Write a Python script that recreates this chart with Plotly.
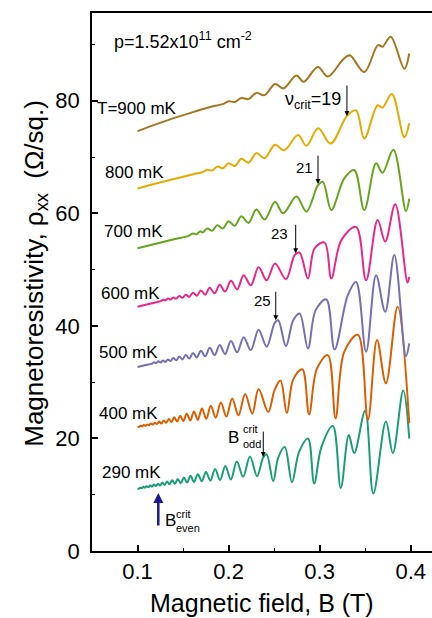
import plotly.graph_objects as go

# ---------------- data ----------------
B_290 = [0.1000, 0.1014, 0.1030, 0.1047, 0.1065, 0.1082, 0.1100, 0.1119, 0.1139, 0.1159,
         0.1180, 0.1202, 0.1225, 0.1248, 0.1273, 0.1298, 0.1325, 0.1351, 0.1380, 0.1410,
         0.1442, 0.1475, 0.1510, 0.1544, 0.1582, 0.1620, 0.1662, 0.1706, 0.1752, 0.1800,
         0.1852, 0.1906, 0.1965, 0.2025, 0.2090, 0.2160, 0.2235, 0.2313, 0.2380, 0.2418,
         0.2490, 0.2545, 0.2617, 0.2696, 0.2774, 0.2872, 0.2940, 0.3020, 0.3145, 0.3232,
         0.3320, 0.3380, 0.3500, 0.3590, 0.3728, 0.3804, 0.3918, 0.3984]
R_290 = [11.1, 11.05, 11.25, 11.15, 11.4, 11.25, 11.5, 11.35, 11.65, 11.45,
         11.8, 11.55, 11.95, 11.65, 12.15, 11.75, 12.35, 11.85, 12.55, 11.95,
         12.8, 12.05, 13.05, 12.15, 13.35, 12.25, 13.65, 12.4, 14.05, 12.5,
         14.55, 12.6, 15.1, 12.7, 15.9, 13.2, 16.8, 13.3, 16.6, 17.2,
         12.4, 16.6, 18.5, 12.2, 17.6, 20.0, 12.0, 18.5, 22.2, 11.2,
         20.6, 17.4, 24.9, 10.2, 23.0, 17.4, 28.5, 20.0]

B_400 = [0.1000, 0.1017, 0.1034, 0.1051, 0.1069, 0.1087, 0.1106, 0.1126, 0.1147, 0.1168,
         0.1190, 0.1213, 0.1237, 0.1262, 0.1288, 0.1315, 0.1343, 0.1372, 0.1403, 0.1435,
         0.1469, 0.1503, 0.1540, 0.1579, 0.1620, 0.1662, 0.1708, 0.1755, 0.1805, 0.1859,
         0.1915, 0.1976, 0.2040, 0.2108, 0.2182, 0.2260, 0.2330, 0.2435, 0.2505, 0.2570,
         0.2640, 0.2710, 0.2810, 0.2884, 0.2970, 0.3090, 0.3175, 0.3270, 0.3420, 0.3530,
         0.3630, 0.3728, 0.3856, 0.3984]
R_400 = [22.1, 22.05, 22.25, 22.15, 22.4, 22.25, 22.5, 22.35, 22.65, 22.45,
         22.8, 22.55, 23.0, 22.65, 23.2, 22.8, 23.45, 22.9, 23.75, 23.0,
         24.05, 23.1, 24.4, 23.2, 24.8, 23.3, 25.3, 23.5, 25.8, 23.7,
         26.4, 23.9, 27.1, 24.1, 27.9, 24.4, 28.8, 24.7, 28.6, 30.3,
         24.5, 30.5, 32.3, 24.3, 32.4, 34.8, 23.6, 35.4, 38.4, 23.3,
         37.5, 29.8, 43.4, 22.7]

B_500 = [0.1000, 0.1080, 0.1161, 0.1183, 0.1205, 0.1229, 0.1254, 0.1280, 0.1306, 0.1334,
         0.1363, 0.1393, 0.1425, 0.1459, 0.1493, 0.1530, 0.1568, 0.1609, 0.1651, 0.1696,
         0.1743, 0.1793, 0.1846, 0.1903, 0.1962, 0.2026, 0.2094, 0.2166, 0.2244, 0.2330,
         0.2418, 0.2508, 0.2545, 0.2630, 0.2710, 0.2780, 0.2872, 0.2956, 0.3073, 0.3164,
         0.3310, 0.3400, 0.3510, 0.3620, 0.3720, 0.3820, 0.3948, 0.3984]
R_500 = [32.7, 33.0, 33.3, 33.55, 33.4, 33.7, 33.5, 33.85, 33.6, 34.05,
         33.75, 34.3, 33.9, 34.55, 34.05, 34.85, 34.2, 35.2, 34.4, 35.6,
         34.6, 36.1, 34.8, 36.6, 35.0, 37.3, 35.3, 38.0, 35.7, 39.3,
         36.3, 40.6, 41.0, 36.4, 41.0, 42.2, 36.0, 42.8, 44.7, 35.8,
         45.5, 47.8, 35.4, 49.0, 42.5, 52.6, 34.6, 36.9]

B_600 = [0.1000, 0.1100, 0.1205, 0.1254, 0.1280, 0.1306, 0.1334, 0.1363, 0.1393, 0.1425,
         0.1459, 0.1493, 0.1530, 0.1568, 0.1609, 0.1651, 0.1696, 0.1743, 0.1793, 0.1846,
         0.1903, 0.1962, 0.2026, 0.2094, 0.2166, 0.2244, 0.2330, 0.2418, 0.2510, 0.2630,
         0.2727, 0.2780, 0.2872, 0.2945, 0.3055, 0.3128, 0.3237, 0.3400, 0.3510, 0.3637,
         0.3720, 0.3830, 0.3965, 0.3984]
R_600 = [43.4, 43.8, 44.2, 44.4, 44.65, 44.55, 44.85, 44.7, 45.05, 44.85,
         45.3, 45.0, 45.55, 45.15, 45.9, 45.35, 46.3, 45.55, 46.8, 45.8,
         47.3, 46.1, 48.0, 46.5, 49.0, 47.2, 50.4, 48.1, 51.1, 48.3,
         52.6, 53.0, 48.4, 53.8, 54.8, 48.4, 55.2, 57.6, 48.1, 58.8,
         55.0, 61.6, 47.7, 48.7]

B_700 = [0.1000, 0.1200, 0.1400, 0.1560, 0.1605, 0.1650, 0.1690, 0.1716, 0.1765, 0.1820,
         0.1875, 0.1936, 0.2000, 0.2068, 0.2140, 0.2219, 0.2305, 0.2395, 0.2510, 0.2600,
         0.2745, 0.2855, 0.2982, 0.3036, 0.3128, 0.3270, 0.3380, 0.3490, 0.3620, 0.3690,
         0.3810, 0.3948, 0.3984]
R_700 = [53.8, 54.6, 55.4, 56.0, 56.4, 56.3, 56.8, 56.6, 57.3, 56.9,
         57.9, 57.3, 58.6, 57.8, 59.5, 58.3, 60.7, 58.9, 62.0, 60.0,
         63.0, 60.3, 65.0, 65.6, 60.6, 66.2, 67.7, 60.6, 68.9, 67.2,
         71.3, 60.4, 62.6]

B_800 = [0.1000, 0.1200, 0.1400, 0.1600, 0.1716, 0.1765, 0.1820, 0.1875, 0.1936, 0.2000,
         0.2068, 0.2140, 0.2219, 0.2305, 0.2395, 0.2510, 0.2610, 0.2763, 0.2855, 0.2984,
         0.3120, 0.3300, 0.3400, 0.3490, 0.3637, 0.3690, 0.3793, 0.3930, 0.3984]
R_800 = [64.4, 65.3, 66.1, 66.9, 67.35, 67.75, 67.6, 68.3, 68.0, 68.9,
         68.4, 69.7, 69.0, 70.7, 69.8, 72.2, 71.2, 73.9, 72.0, 75.1,
         72.4, 77.3, 78.3, 73.3, 79.2, 78.8, 81.2, 73.5, 76.0]

B_900 = [0.1000, 0.1200, 0.1430, 0.1650, 0.1820, 0.1936, 0.2000, 0.2068, 0.2140, 0.2219,
         0.2305, 0.2395, 0.2510, 0.2600, 0.2745, 0.2825, 0.2980, 0.3090, 0.3255, 0.3330,
         0.3490, 0.3640, 0.3690, 0.3780, 0.3930, 0.3984]
R_900 = [74.6, 75.8, 77.1, 78.2, 79.0, 79.4, 79.9, 79.8, 80.5, 80.3,
         81.4, 81.0, 83.0, 82.2, 84.5, 83.4, 86.0, 84.3, 87.3, 88.1,
         85.1, 89.9, 89.6, 91.4, 85.7, 88.4]

curve_labels = ["290 mK", "400 mK", "500 mK", "600 mK", "700 mK", "800 mK", "T=900 mK"]
curve_colors = ["#1b9e77", "#d95f02", "#7570b3", "#e7298a", "#66a61e", "#e6ab02", "#a6761d"]
curve_B = [B_290, B_400, B_500, B_600, B_700, B_800, B_900]
curve_R = [R_290, R_400, R_500, R_600, R_700, R_800, R_900]

x_ticks = [0.1, 0.2, 0.3, 0.4]
x_ticktext = ["0.1", "0.2", "0.3", "0.4"]
y_ticks = [0, 20, 40, 60, 80]
y_ticktext = ["0", "20", "40", "60", "80"]

FONT = "Liberation Sans, Arial, Helvetica, sans-serif"

fig = go.Figure()
for b, r, c, name in zip(curve_B, curve_R, curve_colors, curve_labels):
    fig.add_trace(go.Scatter(x=b, y=r, mode="lines", name=name,
                             line=dict(color=c, width=2, shape="spline", smoothing=1.0),
                             showlegend=False, hoverinfo="skip"))

ann = []
# temperature labels (left-anchored)
label_pos = [(0.0588, 13.9), (0.0555, 24.5), (0.0555, 35.2), (0.0577, 45.8),
             (0.0610, 56.7), (0.0621, 67.3), (0.0533, 78.7)]
for (lx, ly), name in zip(label_pos, curve_labels):
    ann.append(dict(x=lx, y=ly, xref="x", yref="y", text=name, showarrow=False,
                    xanchor="left", yanchor="middle", font=dict(size=17, color="black")))

ann.append(dict(x=0.072, y=90.8, xref="x", yref="y",
                text="p=1.52x10<sup>11</sup> cm<sup>-2</sup>", showarrow=False,
                xanchor="left", yanchor="middle", font=dict(size=18, color="black")))

# critical filling factor labels + arrows
ann.append(dict(x=0.3257, y=80.1, xref="x", yref="y", text="ν<sub>crit</sub>=19",
                showarrow=False, xanchor="right", yanchor="middle",
                font=dict(size=18, color="black")))
for tx, ty, txt in [(0.2949, 68.2, "21"), (0.2675, 56.5, "23"), (0.2488, 44.6, "25")]:
    ann.append(dict(x=tx, y=ty, xref="x", yref="y", text=txt, showarrow=False,
                    xanchor="right", yanchor="middle", font=dict(size=15, color="black")))

arrow_tips = [(0.3300, 77.3, 32), (0.2982, 65.2, 30), (0.2737, 52.9, 30),
              (0.2518, 41.0, 30), (0.2381, 16.7, 27)]
for axv, ayv, ln in arrow_tips:
    ann.append(dict(x=axv, y=ayv, xref="x", yref="y", text="", showarrow=True,
                    ax=0, ay=-ln, arrowhead=2, arrowsize=1, arrowwidth=1,
                    arrowcolor="black", standoff=0))

# B_odd^crit
ann.append(dict(x=0.2136, y=20.2, xref="x", yref="y", text="B", showarrow=False,
                xanchor="right", yanchor="middle", font=dict(size=17, color="black")))
ann.append(dict(x=0.2140, y=21.7, xref="x", yref="y", text="crit", showarrow=False,
                xanchor="left", yanchor="middle", font=dict(size=11, color="black")))
ann.append(dict(x=0.2140, y=19.1, xref="x", yref="y", text="odd", showarrow=False,
                xanchor="left", yanchor="middle", font=dict(size=11, color="black")))

# B_even^crit (blue arrow)
ann.append(dict(x=0.1228, y=10.3, xref="x", yref="y", text="", showarrow=True,
                ax=0, ay=34, arrowhead=2, arrowsize=0.8, arrowwidth=2.5,
                arrowcolor="#1a1a8c", standoff=0))
ann.append(dict(x=0.1280, y=5.5, xref="x", yref="y", text="B", showarrow=False,
                xanchor="left", yanchor="middle", font=dict(size=17, color="black")))
ann.append(dict(x=0.1401, y=6.6, xref="x", yref="y", text="crit", showarrow=False,
                xanchor="left", yanchor="middle", font=dict(size=11, color="black")))
ann.append(dict(x=0.1401, y=4.0, xref="x", yref="y", text="even", showarrow=False,
                xanchor="left", yanchor="middle", font=dict(size=11, color="black")))

# axis titles
ann.append(dict(x=0.5, y=-0.097, xref="paper", yref="paper",
                text="Magnetic field, B (T)", showarrow=False,
                xanchor="center", yanchor="middle", font=dict(size=25, color="black")))
ann.append(dict(x=-0.165, y=0.517, xref="paper", yref="paper",
                text="Magnetoresistivity, ρ<sub>xx</sub>\u00a0\u00a0(Ω/sq.)", showarrow=False,
                textangle=-90, xanchor="center", yanchor="middle",
                font=dict(size=26, color="black")))

fig.update_layout(
    width=432, height=618,
    margin=dict(l=92, r=0, t=13, b=67),
    paper_bgcolor="white", plot_bgcolor="white",
    font=dict(family=FONT, color="black"),
    annotations=ann,
    xaxis=dict(range=[0.05, 0.4234], showgrid=False, zeroline=False,
               showline=True, linecolor="black", linewidth=1.5, mirror=True,
               ticks="inside", ticklen=6, tickwidth=1.5, tickcolor="black",
               tickmode="array", tickvals=x_ticks, ticktext=x_ticktext,
               tickfont=dict(size=22, color="black"), ticklabelstandoff=0,
               minor=dict(ticks="inside", ticklen=3.5, tickwidth=1.2, tickcolor="black",
                          tickmode="array", tickvals=[0.15, 0.25, 0.35])),
    yaxis=dict(range=[0, 95.6], showgrid=False, zeroline=False,
               showline=True, linecolor="black", linewidth=1.5,
               ticks="inside", ticklen=6, tickwidth=1.5, tickcolor="black",
               tickmode="array", tickvals=y_ticks, ticktext=y_ticktext,
               tickfont=dict(size=22, color="black"), ticklabelstandoff=6,
               minor=dict(ticks="inside", ticklen=3.5, tickwidth=1.2, tickcolor="black",
                          tickmode="array", tickvals=[10, 30, 50, 70, 90])),
)

fig.write_html("out.html")
